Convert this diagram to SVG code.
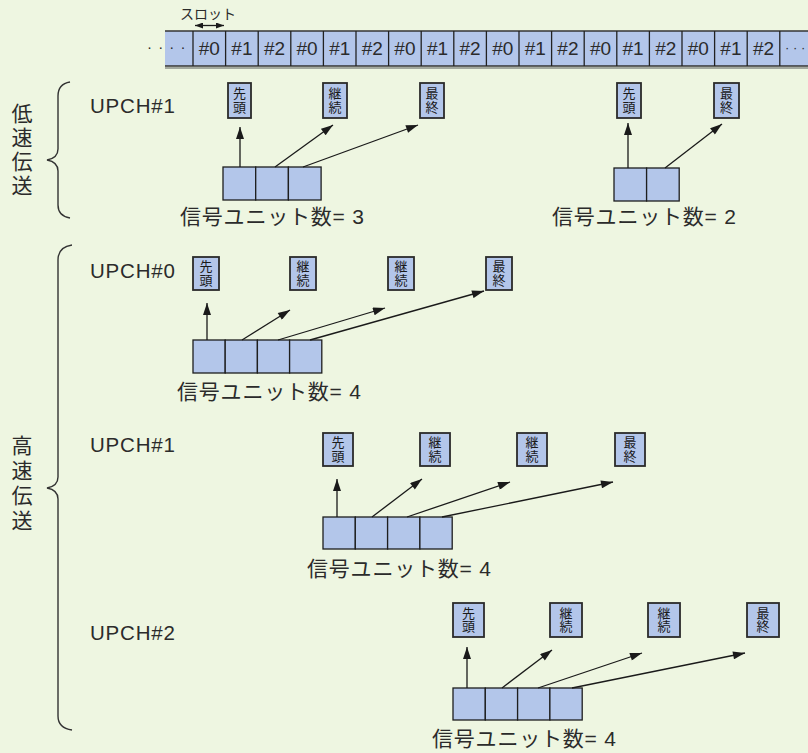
<svg xmlns="http://www.w3.org/2000/svg" width="808" height="753" viewBox="0 0 808 753">
<defs>
<marker id="ah" viewBox="0 0 12 8" refX="12" refY="4" markerWidth="13" markerHeight="8" orient="auto" markerUnits="userSpaceOnUse"><path d="M0,0 L12,4 L0,8 z" fill="#1a1a1a"/></marker>
<marker id="ahs" viewBox="0 0 8 6" refX="8" refY="3" markerWidth="8" markerHeight="6" orient="auto-start-reverse" markerUnits="userSpaceOnUse"><path d="M0,0 L8,3 L0,6 z" fill="#1a1a1a"/></marker>
<style>
.t{font-family:"Liberation Sans","Noto Sans CJK JP",sans-serif;fill:#2b2b2b}
.jp{font-family:"Noto Sans CJK JP",sans-serif;fill:#2b2b2b}
.lbl{font-size:20.5px;letter-spacing:0.8px}
.cnt{font-size:21px;letter-spacing:0.8px}
.slot{font-size:19px;text-anchor:middle}
.vt{font-size:21px;text-anchor:middle;writing-mode:vertical-rl}
.bt{font-size:13px;text-anchor:middle;writing-mode:vertical-rl;fill:#1a1a1a;letter-spacing:0.5px}
.cell{fill:#b3c6ea;stroke:#1e1e1e;stroke-width:1.3}
.box{fill:#b3c6ea;stroke:#2a2a2a;stroke-width:1.8}
.arr{stroke:#1a1a1a;stroke-width:1.3;fill:none;marker-end:url(#ah)}
.brace{stroke:#333;stroke-width:1.4;fill:none}
</style>
</defs>
<rect x="0" y="0" width="808" height="753" fill="#eef6e1"/>

<g id="slotbar">
<rect x="165" y="31" width="650" height="35" fill="#b3c6ea"/>
<line x1="165" y1="31" x2="808" y2="31" stroke="#333" stroke-width="1.3"/>
<line x1="165" y1="66" x2="808" y2="66" stroke="#333" stroke-width="1.3"/>
<line x1="165" y1="68" x2="808" y2="68" stroke="#8a8f88" stroke-width="1.5"/>
<g stroke="#222" stroke-width="1.3">
<line x1="193" y1="31" x2="193" y2="66"/><line x1="225.6" y1="31" x2="225.6" y2="66"/><line x1="258.2" y1="31" x2="258.2" y2="66"/><line x1="290.8" y1="31" x2="290.8" y2="66"/><line x1="323.4" y1="31" x2="323.4" y2="66"/><line x1="356" y1="31" x2="356" y2="66"/><line x1="388.6" y1="31" x2="388.6" y2="66"/><line x1="421.2" y1="31" x2="421.2" y2="66"/><line x1="453.8" y1="31" x2="453.8" y2="66"/><line x1="486.4" y1="31" x2="486.4" y2="66"/><line x1="519" y1="31" x2="519" y2="66"/><line x1="551.6" y1="31" x2="551.6" y2="66"/><line x1="584.2" y1="31" x2="584.2" y2="66"/><line x1="616.8" y1="31" x2="616.8" y2="66"/><line x1="649.4" y1="31" x2="649.4" y2="66"/><line x1="682" y1="31" x2="682" y2="66"/><line x1="714.6" y1="31" x2="714.6" y2="66"/><line x1="747.2" y1="31" x2="747.2" y2="66"/><line x1="779.8" y1="31" x2="779.8" y2="66"/>
</g>
<text class="t" x="147" y="52" font-size="15" fill="#555" letter-spacing="1">· · · ·</text>
<text class="t" x="785" y="52" font-size="13" fill="#555">· · ·</text>
<g class="t slot">
<text x="209.3" y="55">#0</text><text x="241.9" y="55">#1</text><text x="274.5" y="55">#2</text><text x="307.1" y="55">#0</text><text x="339.7" y="55">#1</text><text x="372.3" y="55">#2</text><text x="404.9" y="55">#0</text><text x="437.5" y="55">#1</text><text x="470.1" y="55">#2</text><text x="502.7" y="55">#0</text><text x="535.3" y="55">#1</text><text x="567.9" y="55">#2</text><text x="600.5" y="55">#0</text><text x="633.1" y="55">#1</text><text x="665.7" y="55">#2</text><text x="698.3" y="55">#0</text><text x="730.9" y="55">#1</text><text x="763.5" y="55">#2</text>
</g>
<text class="jp" x="180" y="19" font-size="14">スロット</text>
<line x1="195" y1="25.5" x2="224" y2="25.5" stroke="#1a1a1a" stroke-width="1.3" marker-start="url(#ahs)" marker-end="url(#ahs)"/>
</g>

<g id="lowspeed">
<path class="brace" d="M70,82 Q58,84 58,96 L58,149 Q58,158 47,160 Q58,162 58,171 L58,205 Q58,216 70,218"/>
<text class="jp vt" x="22" y="151" letter-spacing="3">低速伝送</text>
</g>

<g id="highspeed">
<path class="brace" d="M72,245 Q58,247 58,260 L58,477 Q58,486 47,488 Q58,490 58,499 L58,716 Q58,728 72,730"/>
<text class="jp vt" x="22" y="485" letter-spacing="4">高速伝送</text>
</g>

<g id="low-upch1-a">
<text class="t lbl" x="90" y="113">UPCH#1</text>
<g><rect class="box" x="228" y="83" width="23" height="35"/><text class="jp bt" x="239.5" y="100.5">先頭</text></g>
<g><rect class="box" x="323" y="83" width="24" height="35"/><text class="jp bt" x="335" y="100.5">継続</text></g>
<g><rect class="box" x="420" y="83" width="24" height="35"/><text class="jp bt" x="432" y="100.5">最終</text></g>
<rect class="cell" x="223" y="167" width="32.7" height="33"/><rect class="cell" x="255.7" y="167" width="32.7" height="33"/><rect class="cell" x="288.4" y="167" width="32.7" height="33"/>
<text class="t cnt" x="180" y="224">信号ユニット数= 3</text>
</g>

<g id="low-upch1-b">
<g><rect class="box" x="617" y="83" width="24" height="35"/><text class="jp bt" x="629" y="100.5">先頭</text></g>
<g><rect class="box" x="714" y="83" width="25" height="35"/><text class="jp bt" x="726.5" y="100.5">最終</text></g>
<rect class="cell" x="614" y="168" width="32.6" height="33"/><rect class="cell" x="646.6" y="168" width="32.6" height="33"/>
<text class="t cnt" x="552" y="224">信号ユニット数= 2</text>
</g>

<g id="high-upch0">
<text class="t lbl" x="90" y="278">UPCH#0</text>
<g><rect class="box" x="193" y="257" width="26" height="33"/><text class="jp bt" x="206" y="273.5">先頭</text></g>
<g><rect class="box" x="290" y="257" width="26" height="33"/><text class="jp bt" x="303" y="273.5">継続</text></g>
<g><rect class="box" x="388" y="257" width="26" height="33"/><text class="jp bt" x="401" y="273.5">継続</text></g>
<g><rect class="box" x="486" y="257" width="26" height="33"/><text class="jp bt" x="499" y="273.5">最終</text></g>
<rect class="cell" x="193" y="340" width="32.2" height="33"/><rect class="cell" x="225.2" y="340" width="32.2" height="33"/><rect class="cell" x="257.4" y="340" width="32.2" height="33"/><rect class="cell" x="289.6" y="340" width="32.2" height="33"/>
<text class="t cnt" x="177" y="399">信号ユニット数= 4</text>
</g>

<g id="high-upch1">
<text class="t lbl" x="90" y="452">UPCH#1</text>
<g><rect class="box" x="323" y="433" width="30" height="33"/><text class="jp bt" x="338" y="449.5">先頭</text></g>
<g><rect class="box" x="420" y="433" width="30" height="33"/><text class="jp bt" x="435" y="449.5">継続</text></g>
<g><rect class="box" x="517" y="433" width="30" height="33"/><text class="jp bt" x="532" y="449.5">継続</text></g>
<g><rect class="box" x="615" y="433" width="30" height="33"/><text class="jp bt" x="630" y="449.5">最終</text></g>
<rect class="cell" x="323" y="517" width="32.3" height="32"/><rect class="cell" x="355.3" y="517" width="32.3" height="32"/><rect class="cell" x="387.6" y="517" width="32.3" height="32"/><rect class="cell" x="419.9" y="517" width="32.3" height="32"/>
<text class="t cnt" x="307" y="576">信号ユニット数= 4</text>
</g>

<g id="high-upch2">
<text class="t lbl" x="90" y="640">UPCH#2</text>
<g><rect class="box" x="453" y="603" width="31" height="34"/><text class="jp bt" x="468.5" y="620">先頭</text></g>
<g><rect class="box" x="550" y="603" width="32" height="34"/><text class="jp bt" x="566" y="620">継続</text></g>
<g><rect class="box" x="648" y="603" width="32" height="34"/><text class="jp bt" x="664" y="620">継続</text></g>
<g><rect class="box" x="747" y="603" width="32" height="34"/><text class="jp bt" x="763" y="620">最終</text></g>
<rect class="cell" x="453" y="688" width="32.3" height="32"/><rect class="cell" x="485.3" y="688" width="32.3" height="32"/><rect class="cell" x="517.6" y="688" width="32.3" height="32"/><rect class="cell" x="549.9" y="688" width="32.3" height="32"/>
<text class="t cnt" x="432" y="746">信号ユニット数= 4</text>
</g>

<g id="connectors">
<line class="arr" x1="240" y1="167" x2="240" y2="127"/>
<line class="arr" x1="275" y1="167" x2="333" y2="125"/>
<line class="arr" x1="303" y1="167" x2="418" y2="125"/>
<line class="arr" x1="628" y1="168" x2="628" y2="123"/>
<line class="arr" x1="665" y1="168" x2="722" y2="124"/>
<line class="arr" x1="207" y1="340" x2="207" y2="303"/>
<line class="arr" x1="242" y1="340" x2="290" y2="310"/>
<line class="arr" x1="278" y1="340" x2="385" y2="308"/>
<line class="arr" x1="310" y1="340" x2="484" y2="291"/>
<line class="arr" x1="337" y1="517" x2="337" y2="479"/>
<line class="arr" x1="372" y1="517" x2="422" y2="479"/>
<line class="arr" x1="407" y1="517" x2="510" y2="482"/>
<line class="arr" x1="442" y1="517" x2="613" y2="482"/>
<line class="arr" x1="467" y1="688" x2="467" y2="647"/>
<line class="arr" x1="502" y1="688" x2="552" y2="650"/>
<line class="arr" x1="538" y1="688" x2="642" y2="653"/>
<line class="arr" x1="572" y1="688" x2="745" y2="653"/>
</g>
</svg>
